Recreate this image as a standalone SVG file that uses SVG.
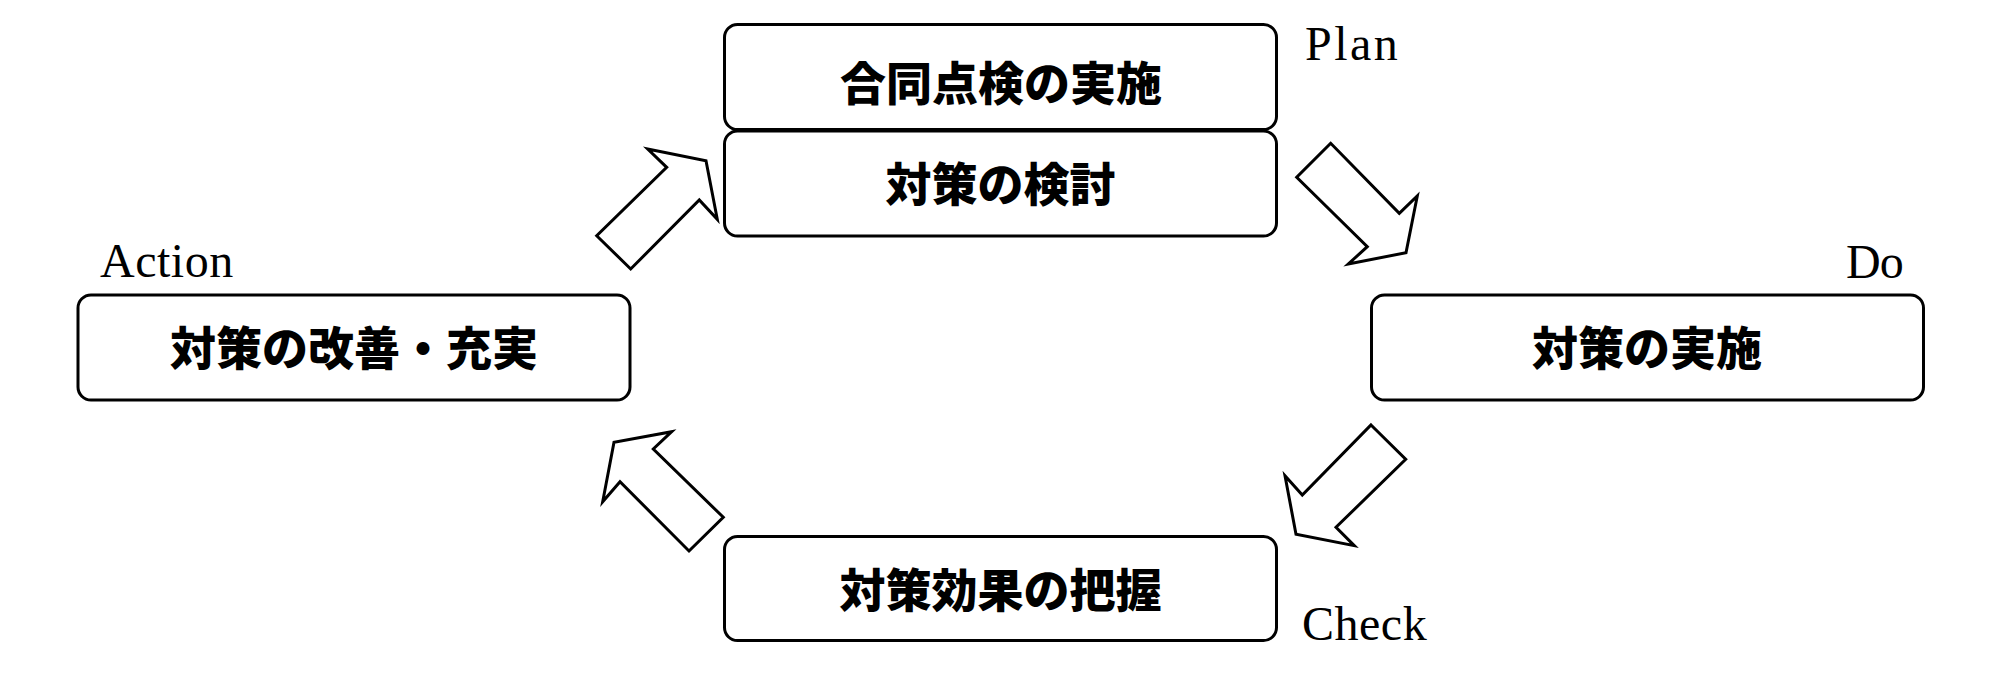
<svg xmlns="http://www.w3.org/2000/svg" width="2000" height="676" viewBox="0 0 2000 676">
<style>
.box{fill:#fff;stroke:#000;stroke-width:3}
.arr{fill:#fff;stroke:#000;stroke-width:3;stroke-linejoin:miter}
.jp{font-family:"Noto Sans CJK JP","Noto Sans CJK SC",sans-serif;font-weight:900;font-size:46px;text-anchor:middle;fill:#000}
.lbl{font-family:"Liberation Serif","Times New Roman",serif;font-size:48px;fill:#000}
</style>
<rect width="2000" height="676" fill="#fff"/>
<g id="connectors">
<polygon class="arr" points="596.7,235.7 630.7,269 699.3,200 717.3,219.3 706,160.7 647.7,149 666.7,167.3"/>
<polygon class="arr" points="1330.7,143.3 1296.7,177.3 1367.3,246.7 1348.3,264 1406,252.7 1417.3,196 1399.3,213.3"/>
<polygon class="arr" points="1371,425 1405.7,459.3 1336,527.3 1354.3,545.7 1296,534.3 1285,475.7 1302.3,495"/>
<polygon class="arr" points="689,551 723.3,517.3 653.3,449 671.7,431.7 614,442.3 602.7,501.7 620,481.7"/>
</g>
<g id="plan1">
<rect class="box" x="724.5" y="24.5" width="552" height="105" rx="13"/>
<text class="jp" x="1001" y="99.5">合同点検の実施</text>
</g>
<g id="plan2">
<rect class="box" x="724.5" y="131" width="552" height="105" rx="13"/>
<text class="jp" x="1000.5" y="201">対策の検討</text>
</g>
<g id="plan-label"><text class="lbl" x="1305" y="60" letter-spacing="2.5">Plan</text></g>
<g id="do">
<rect class="box" x="1371.5" y="295" width="552" height="105" rx="13"/>
<text class="jp" x="1647" y="365">対策の実施</text>
</g>
<g id="do-label"><text class="lbl" x="1846" y="278" letter-spacing="-1">Do</text></g>
<g id="check">
<rect class="box" x="724.5" y="536.5" width="552" height="104" rx="13"/>
<text class="jp" x="1000.5" y="606.5">対策効果の把握</text>
</g>
<g id="check-label"><text class="lbl" x="1302" y="640" letter-spacing="0.5">Check</text></g>
<g id="action">
<rect class="box" x="78" y="295" width="552" height="105" rx="13"/>
<text class="jp" x="354" y="365">対策の改善・充実</text>
</g>
<g id="action-label"><text class="lbl" x="100" y="277" letter-spacing="0.5">Action</text></g>
</svg>
